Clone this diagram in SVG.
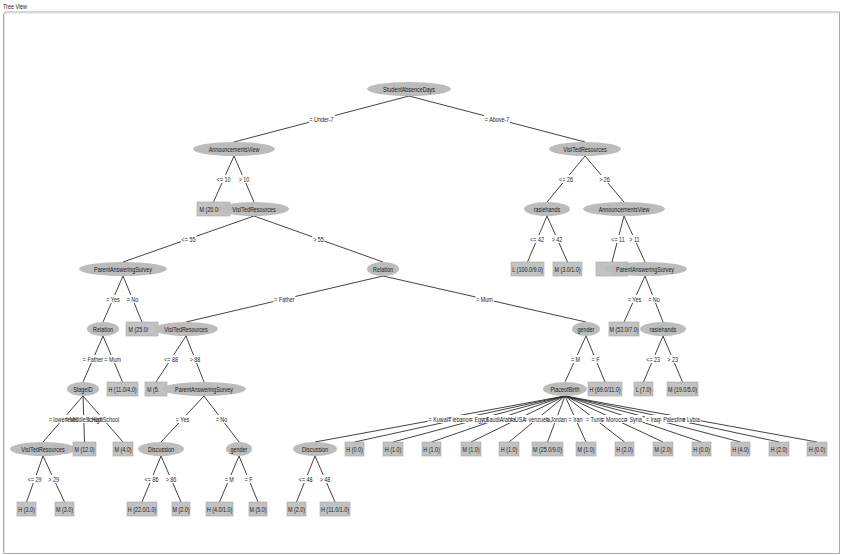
<svg xmlns="http://www.w3.org/2000/svg" width="843" height="555" viewBox="0 0 843 555">
<style>
text{font-family:"Liberation Sans",Arial,sans-serif;font-size:7.2px;fill:#1a1a1a;text-anchor:middle}
text.s{text-anchor:start}
.n ellipse{fill:#bcbcbc}
.n rect{fill:#c2c2c2;stroke:#a6a6a6;stroke-width:0.6}
.e line{stroke:#2e2e2e;stroke-width:0.9}
.bg rect{fill:#fff}
</style>
<rect width="843" height="555" fill="#fff"/>
<text class="s" transform="translate(3 8.5) scale(.75 1)">Tree View</text>
<path d="M3.5 553.5 V15 Q3.5 12 6.5 12 H839.5 V553.5 Z" fill="none" stroke="#a8a8a8" stroke-width="1"/>
<path d="M4.5 552 V16 Q4.5 13 7.5 13 H838.5" fill="none" stroke="#e0e0e0" stroke-width="1"/>

<g id="connectors" class="e">
<line x1="409" y1="96" x2="234" y2="142"/>
<line x1="409" y1="96" x2="585" y2="142"/>
<line x1="234" y1="156" x2="213.5" y2="202"/>
<line x1="234" y1="156" x2="254" y2="202"/>
<line x1="585" y1="156" x2="547" y2="202"/>
<line x1="585" y1="156" x2="624" y2="202"/>
<line x1="254" y1="216" x2="123" y2="262"/>
<line x1="254" y1="216" x2="383" y2="262"/>
<line x1="547" y1="216" x2="527.5" y2="262"/>
<line x1="547" y1="216" x2="567.5" y2="262"/>
<line x1="624" y1="216" x2="612" y2="262"/>
<line x1="624" y1="216" x2="645" y2="262"/>
<line x1="123" y1="276" x2="103" y2="322"/>
<line x1="123" y1="276" x2="142" y2="322"/>
<line x1="383" y1="276" x2="186" y2="322"/>
<line x1="383" y1="276" x2="586" y2="322"/>
<line x1="645" y1="276" x2="624" y2="322"/>
<line x1="645" y1="276" x2="663" y2="322"/>
<line x1="103" y1="336" x2="83" y2="382"/>
<line x1="103" y1="336" x2="122.5" y2="382"/>
<line x1="186" y1="336" x2="156" y2="382"/>
<line x1="186" y1="336" x2="204" y2="382"/>
<line x1="586" y1="336" x2="565" y2="382"/>
<line x1="586" y1="336" x2="605" y2="382"/>
<line x1="663" y1="336" x2="643.5" y2="382"/>
<line x1="663" y1="336" x2="682.5" y2="382"/>
<line x1="83" y1="396" x2="43" y2="442"/>
<line x1="83" y1="396" x2="84.5" y2="442"/>
<line x1="83" y1="396" x2="123" y2="442"/>
<line x1="204" y1="396" x2="161" y2="442"/>
<line x1="204" y1="396" x2="239" y2="442"/>
<line x1="565" y1="396" x2="315" y2="442"/>
<line x1="565" y1="396" x2="354.5" y2="442"/>
<line x1="565" y1="396" x2="393" y2="442"/>
<line x1="565" y1="396" x2="431.5" y2="442"/>
<line x1="565" y1="396" x2="471" y2="442"/>
<line x1="565" y1="396" x2="509" y2="442"/>
<line x1="565" y1="396" x2="547.5" y2="442"/>
<line x1="565" y1="396" x2="586" y2="442"/>
<line x1="565" y1="396" x2="624.5" y2="442"/>
<line x1="565" y1="396" x2="663" y2="442"/>
<line x1="565" y1="396" x2="701.5" y2="442"/>
<line x1="565" y1="396" x2="740.5" y2="442"/>
<line x1="565" y1="396" x2="779" y2="442"/>
<line x1="565" y1="396" x2="817" y2="442"/>
<line x1="43" y1="456" x2="26.5" y2="502"/>
<line x1="43" y1="456" x2="64.5" y2="502"/>
<line x1="161" y1="456" x2="142" y2="502"/>
<line x1="161" y1="456" x2="181" y2="502"/>
<line x1="239" y1="456" x2="219.5" y2="502"/>
<line x1="239" y1="456" x2="258" y2="502"/>
<line x1="315" y1="456" x2="296.5" y2="502"/>
<line x1="315" y1="456" x2="335" y2="502"/>
<g class="bg">
<rect x="309" y="115" width="26" height="8"/>
<rect x="484" y="115" width="26" height="8"/>
<rect x="216" y="175" width="15.5" height="8"/>
<rect x="238" y="175" width="12.5" height="8"/>
<rect x="558" y="175" width="15.5" height="8"/>
<rect x="598" y="175" width="12.5" height="8"/>
<rect x="181" y="235" width="15.5" height="8"/>
<rect x="312" y="235" width="12.5" height="8"/>
<rect x="529" y="235" width="15.5" height="8"/>
<rect x="551" y="235" width="12.5" height="8"/>
<rect x="610" y="235" width="15.5" height="8"/>
<rect x="628" y="235" width="12.5" height="8"/>
<rect x="105" y="295" width="15.6" height="8"/>
<rect x="126" y="295" width="13.2" height="8"/>
<rect x="273.5" y="295" width="21.7" height="8"/>
<rect x="475.5" y="295" width="18.2" height="8"/>
<rect x="626.5" y="295" width="15.6" height="8"/>
<rect x="647.5" y="295" width="13.2" height="8"/>
<rect x="82" y="355" width="21.7" height="8"/>
<rect x="103.5" y="355" width="18.2" height="8"/>
<rect x="163" y="355" width="15.5" height="8"/>
<rect x="189" y="355" width="12.5" height="8"/>
<rect x="570" y="355" width="11" height="8"/>
<rect x="591" y="355" width="9.7" height="8"/>
<rect x="645.5" y="355" width="15.5" height="8"/>
<rect x="666.5" y="355" width="12.5" height="8"/>
<rect x="48" y="415" width="30" height="8"/>
<rect x="64.7" y="415" width="38" height="8"/>
<rect x="86.3" y="415" width="33.4" height="8"/>
<rect x="173.7" y="415" width="15.6" height="8"/>
<rect x="215" y="415" width="13.2" height="8"/>
<rect x="427.8" y="415" width="24.3" height="8"/>
<rect x="447.1" y="415" width="25.2" height="8"/>
<rect x="469" y="415" width="20" height="8"/>
<rect x="480.7" y="415" width="35.1" height="8"/>
<rect x="509.4" y="415" width="17.3" height="8"/>
<rect x="523.2" y="415" width="27.5" height="8"/>
<rect x="544.9" y="415" width="22.6" height="8"/>
<rect x="567.7" y="415" width="15.6" height="8"/>
<rect x="585" y="415" width="19.4" height="8"/>
<rect x="600.6" y="415" width="26.7" height="8"/>
<rect x="624" y="415" width="18.5" height="8"/>
<rect x="645" y="415" width="15.6" height="8"/>
<rect x="657.9" y="415" width="28.1" height="8"/>
<rect x="681.4" y="415" width="19.1" height="8"/>
<rect x="27" y="475" width="15.5" height="8"/>
<rect x="47.5" y="475" width="12.5" height="8"/>
<rect x="143.7" y="475" width="15.5" height="8"/>
<rect x="164.7" y="475" width="12.5" height="8"/>
<rect x="224.3" y="475" width="11" height="8"/>
<rect x="243.6" y="475" width="9.7" height="8"/>
<rect x="298" y="475" width="15.5" height="8"/>
<rect x="318.7" y="475" width="12.5" height="8"/>
</g>
<g class="lt">
<text transform="translate(321.5 121.5) scale(.75 1)">= Under-7</text>
<text transform="translate(497 121.5) scale(.75 1)">= Above-7</text>
<text transform="translate(223.7 181.5) scale(.75 1)">&lt;= 10</text>
<text transform="translate(244 181.5) scale(.75 1)">&gt; 10</text>
<text transform="translate(566 181.5) scale(.75 1)">&lt;= 26</text>
<text transform="translate(604.5 181.5) scale(.75 1)">&gt; 26</text>
<text transform="translate(188.5 241.5) scale(.75 1)">&lt;= 55</text>
<text transform="translate(318.5 241.5) scale(.75 1)">&gt; 55</text>
<text transform="translate(537 241.5) scale(.75 1)">&lt;= 42</text>
<text transform="translate(557 241.5) scale(.75 1)">&gt; 42</text>
<text transform="translate(618 241.5) scale(.75 1)">&lt;= 11</text>
<text transform="translate(634.5 241.5) scale(.75 1)">&gt; 11</text>
<text transform="translate(113 301.5) scale(.75 1)">= Yes</text>
<text transform="translate(132.5 301.5) scale(.75 1)">= No</text>
<text transform="translate(284.5 301.5) scale(.75 1)">= Father</text>
<text transform="translate(484.5 301.5) scale(.75 1)">= Mum</text>
<text transform="translate(634.5 301.5) scale(.75 1)">= Yes</text>
<text transform="translate(654 301.5) scale(.75 1)">= No</text>
<text transform="translate(93 361.5) scale(.75 1)">= Father</text>
<text transform="translate(112.7 361.5) scale(.75 1)">= Mum</text>
<text transform="translate(171 361.5) scale(.75 1)">&lt;= 88</text>
<text transform="translate(195 361.5) scale(.75 1)">&gt; 88</text>
<text transform="translate(575.5 361.5) scale(.75 1)">= M</text>
<text transform="translate(595.5 361.5) scale(.75 1)">= F</text>
<text transform="translate(653.2 361.5) scale(.75 1)">&lt;= 23</text>
<text transform="translate(672.7 361.5) scale(.75 1)">&gt; 23</text>
<text transform="translate(63 421.5) scale(.75 1)">= lowerlevel</text>
<text transform="translate(83.7 421.5) scale(.75 1)">= MiddleSchool</text>
<text transform="translate(103 421.5) scale(.75 1)">= HighSchool</text>
<text transform="translate(182.5 421.5) scale(.75 1)">= Yes</text>
<text transform="translate(221.5 421.5) scale(.75 1)">= No</text>
<text transform="translate(440 421.5) scale(.75 1)">= KuwaIT</text>
<text transform="translate(459.7 421.5) scale(.75 1)">= lebanon</text>
<text transform="translate(479 421.5) scale(.75 1)">= Egypt</text>
<text transform="translate(498.2 421.5) scale(.75 1)">= SaudiArabia</text>
<text transform="translate(518 421.5) scale(.75 1)">= USA</text>
<text transform="translate(537 421.5) scale(.75 1)">= venzuela</text>
<text transform="translate(556.2 421.5) scale(.75 1)">= Jordan</text>
<text transform="translate(575.5 421.5) scale(.75 1)">= Iran</text>
<text transform="translate(594.7 421.5) scale(.75 1)">= Tunis</text>
<text transform="translate(614 421.5) scale(.75 1)">= Morocco</text>
<text transform="translate(633.2 421.5) scale(.75 1)">= Syria</text>
<text transform="translate(652.7 421.5) scale(.75 1)">= Iraq</text>
<text transform="translate(672 421.5) scale(.75 1)">= Palestine</text>
<text transform="translate(691 421.5) scale(.75 1)">= Lybia</text>
<text transform="translate(34.7 481.5) scale(.75 1)">&lt;= 29</text>
<text transform="translate(53.7 481.5) scale(.75 1)">&gt; 29</text>
<text transform="translate(151.5 481.5) scale(.75 1)">&lt;= 86</text>
<text transform="translate(171 481.5) scale(.75 1)">&gt; 86</text>
<text transform="translate(229.2 481.5) scale(.75 1)">= M</text>
<text transform="translate(248.5 481.5) scale(.75 1)">= F</text>
<text transform="translate(305.7 481.5) scale(.75 1)">&lt;= 48</text>
<text transform="translate(325 481.5) scale(.75 1)">&gt; 48</text>
</g>
</g>

<g id="nodes" class="n">
<g id="n0"><ellipse cx="409" cy="89" rx="42" ry="7"/><text transform="translate(409 91.5) scale(.75 1)">StudentAbsenceDays</text></g>
<g id="n1"><ellipse cx="234" cy="149" rx="41" ry="7"/><text transform="translate(234 151.5) scale(.75 1)">AnnouncementsView</text></g>
<g id="n2"><ellipse cx="585" cy="149" rx="36" ry="7"/><text transform="translate(585 151.5) scale(.75 1)">VisITedResources</text></g>
<g id="n3"><rect x="197" y="202" width="33" height="14"/><text class="s" transform="translate(199.5 211.5) scale(.75 1)">M (26.0/</text></g>
<g id="n4"><ellipse cx="254" cy="209" rx="35" ry="7"/><text transform="translate(254 211.5) scale(.75 1)">VisITedResources</text></g>
<g id="n5"><ellipse cx="547" cy="209" rx="23" ry="7"/><text transform="translate(547 211.5) scale(.75 1)">rasiehands</text></g>
<g id="n6"><ellipse cx="624" cy="209" rx="41" ry="7"/><text transform="translate(624 211.5) scale(.75 1)">AnnouncementsView</text></g>
<g id="n7"><ellipse cx="123" cy="269" rx="44" ry="7"/><text transform="translate(123 271.5) scale(.75 1)">ParentAnsweringSurvey</text></g>
<g id="n8"><ellipse cx="383" cy="269" rx="16" ry="7"/><text transform="translate(383 271.5) scale(.75 1)">Relation</text></g>
<g id="n5a"><rect x="511" y="262" width="33" height="14"/><text transform="translate(527.5 271.5) scale(.75 1)">L (100.0/9.0)</text></g>
<g id="n5b"><rect x="553" y="262" width="29" height="14"/><text transform="translate(567.5 271.5) scale(.75 1)">M (3.0/1.0)</text></g>
<g id="n9a"><rect x="596" y="262" width="32" height="14"/></g>
<g id="n9"><ellipse cx="646" cy="269" rx="41" ry="7"/><text transform="translate(645 271.5) scale(.75 1)">ParentAnsweringSurvey</text></g>
<g id="n10"><ellipse cx="103" cy="329" rx="16" ry="7"/><text transform="translate(103 331.5) scale(.75 1)">Relation</text></g>
<g id="n10a"><rect x="126" y="322" width="32" height="14"/><text class="s" transform="translate(128.5 331.5) scale(.75 1)">M (25.0/</text></g>
<g id="n11"><ellipse cx="186" cy="329" rx="32" ry="7"/><text transform="translate(186 331.5) scale(.75 1)">VisITedResources</text></g>
<g id="n12"><ellipse cx="586" cy="329" rx="14" ry="7"/><text transform="translate(586 331.5) scale(.75 1)">gender</text></g>
<g id="n13a"><rect x="609" y="322" width="30" height="14"/><text transform="translate(624 331.5) scale(.75 1)">M (53.0/7.0)</text></g>
<g id="n13"><ellipse cx="663" cy="329" rx="23" ry="7"/><text transform="translate(663 331.5) scale(.75 1)">rasiehands</text></g>
<g id="n14"><ellipse cx="83" cy="389" rx="16" ry="7"/><text transform="translate(83 391.5) scale(.75 1)">StageID</text></g>
<g id="n14a"><rect x="107" y="382" width="31" height="14"/><text transform="translate(122.5 391.5) scale(.75 1)">H (11.0/4.0)</text></g>
<g id="n15a"><rect x="145" y="382" width="22" height="14"/><text class="s" transform="translate(147 391.5) scale(.75 1)">M (5.</text></g>
<g id="n15"><ellipse cx="204" cy="389" rx="42" ry="7"/><text transform="translate(204 391.5) scale(.75 1)">ParentAnsweringSurvey</text></g>
<g id="n16"><ellipse cx="565" cy="389" rx="22" ry="7"/><text transform="translate(565 391.5) scale(.75 1)">PlaceofBirth</text></g>
<g id="n16a"><rect x="588" y="382" width="34" height="14"/><text transform="translate(605 391.5) scale(.75 1)">H (69.0/11.0)</text></g>
<g id="n13b"><rect x="634" y="382" width="19" height="14"/><text transform="translate(643.5 391.5) scale(.75 1)">L (7.0)</text></g>
<g id="n13c"><rect x="667" y="382" width="31" height="14"/><text transform="translate(682.5 391.5) scale(.75 1)">M (19.0/5.0)</text></g>
<g id="n17"><ellipse cx="43" cy="449" rx="33" ry="7"/><text transform="translate(43 451.5) scale(.75 1)">VisITedResources</text></g>
<g id="n14b"><rect x="73" y="442" width="23" height="14"/><text transform="translate(84.5 451.5) scale(.75 1)">M (12.0)</text></g>
<g id="n14c"><rect x="113" y="442" width="20" height="14"/><text transform="translate(123 451.5) scale(.75 1)">M (4.0)</text></g>
<g id="n18"><ellipse cx="161" cy="449" rx="23" ry="7"/><text transform="translate(161 451.5) scale(.75 1)">Discussion</text></g>
<g id="n19"><ellipse cx="239" cy="449" rx="13" ry="7"/><text transform="translate(239 451.5) scale(.75 1)">gender</text></g>
<g id="n20"><ellipse cx="315" cy="449" rx="22" ry="7"/><text transform="translate(315 451.5) scale(.75 1)">Discussion</text></g>
<g id="f1"><rect x="345" y="442" width="19" height="14"/><text transform="translate(354.5 451.5) scale(.75 1)">H (0.0)</text></g>
<g id="f2"><rect x="383" y="442" width="20" height="14"/><text transform="translate(393 451.5) scale(.75 1)">H (1.0)</text></g>
<g id="f3"><rect x="422" y="442" width="19" height="14"/><text transform="translate(431.5 451.5) scale(.75 1)">H (1.0)</text></g>
<g id="f4"><rect x="461" y="442" width="20" height="14"/><text transform="translate(471 451.5) scale(.75 1)">M (1.0)</text></g>
<g id="f5"><rect x="499" y="442" width="20" height="14"/><text transform="translate(509 451.5) scale(.75 1)">H (1.0)</text></g>
<g id="f6"><rect x="532" y="442" width="31" height="14"/><text transform="translate(547.5 451.5) scale(.75 1)">M (25.0/9.0)</text></g>
<g id="f7"><rect x="576" y="442" width="20" height="14"/><text transform="translate(586 451.5) scale(.75 1)">M (1.0)</text></g>
<g id="f8"><rect x="615" y="442" width="19" height="14"/><text transform="translate(624.5 451.5) scale(.75 1)">H (2.0)</text></g>
<g id="f9"><rect x="653" y="442" width="20" height="14"/><text transform="translate(663 451.5) scale(.75 1)">M (2.0)</text></g>
<g id="f10"><rect x="692" y="442" width="19" height="14"/><text transform="translate(701.5 451.5) scale(.75 1)">H (0.0)</text></g>
<g id="f11"><rect x="731" y="442" width="19" height="14"/><text transform="translate(740.5 451.5) scale(.75 1)">H (4.0)</text></g>
<g id="f12"><rect x="769" y="442" width="20" height="14"/><text transform="translate(779 451.5) scale(.75 1)">H (2.0)</text></g>
<g id="f13"><rect x="807" y="442" width="20" height="14"/><text transform="translate(817 451.5) scale(.75 1)">H (0.0)</text></g>
<g id="b1"><rect x="17" y="502" width="19" height="14"/><text transform="translate(26.5 511.5) scale(.75 1)">H (3.0)</text></g>
<g id="b2"><rect x="55" y="502" width="19" height="14"/><text transform="translate(64.5 511.5) scale(.75 1)">M (3.0)</text></g>
<g id="b3"><rect x="127" y="502" width="30" height="14"/><text transform="translate(142 511.5) scale(.75 1)">H (22.0/1.0)</text></g>
<g id="b4"><rect x="172" y="502" width="18" height="14"/><text transform="translate(181 511.5) scale(.75 1)">M (2.0)</text></g>
<g id="b5"><rect x="206" y="502" width="27" height="14"/><text transform="translate(219.5 511.5) scale(.75 1)">H (4.0/1.0)</text></g>
<g id="b6"><rect x="249" y="502" width="18" height="14"/><text transform="translate(258 511.5) scale(.75 1)">M (5.0)</text></g>
<g id="b7"><rect x="287" y="502" width="19" height="14"/><text transform="translate(296.5 511.5) scale(.75 1)">M (2.0)</text></g>
<g id="b8"><rect x="320" y="502" width="30" height="14"/><text transform="translate(335 511.5) scale(.75 1)">H (11.0/1.0)</text></g>
</g>
</svg>
